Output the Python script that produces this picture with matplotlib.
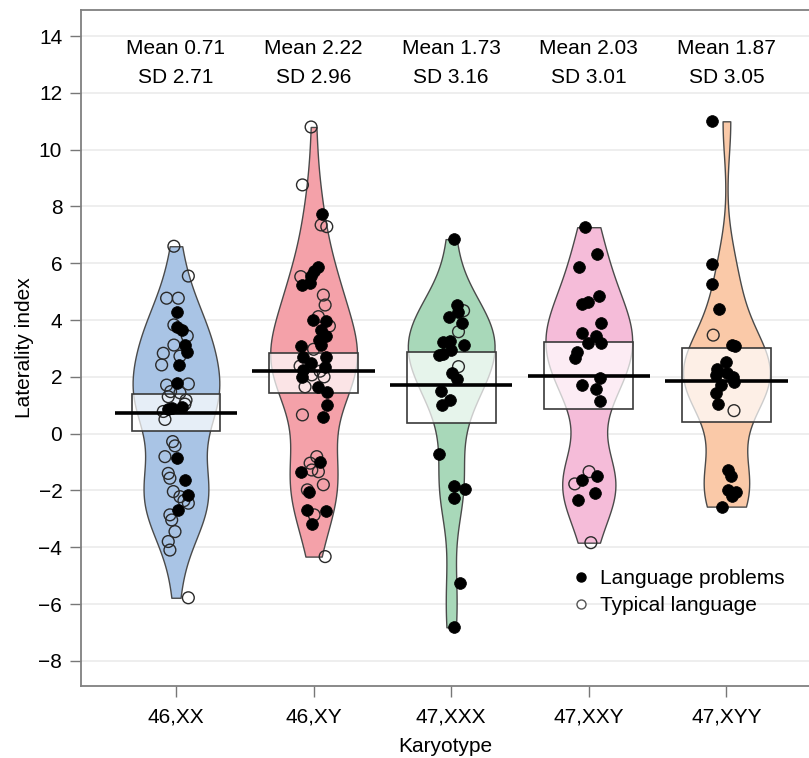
import numpy as np
import matplotlib
matplotlib.use("Agg")
from matplotlib import pyplot as plt
from matplotlib.lines import Line2D

plt.rcParams['font.family'] = ['Liberation Sans', 'DejaVu Sans']

karyotypes = ['46,XX', '46,XY', '47,XXX', '47,XXY', '47,XYY']
means = [0.71, 2.22, 1.73, 2.03, 1.87]
sds = [2.71, 2.96, 3.16, 3.01, 3.05]
box_low = [0.11, 1.42, 0.37, 0.86, 0.40]
box_high = [1.39, 2.85, 2.87, 3.22, 3.03]
colors = ['#a9c4e5', '#f4a1a9', '#a8d8b9', '#f5bcd9', '#fac9a8']

# laterality index per child, horizontal jitter, 1 = language problems
li_xx = [6.6, 5.55, 4.77, 4.77, 4.30, 3.83, 3.74, 3.65, 3.44, 3.12, 3.12, 2.86, 2.83, 2.73,
         2.42, 2.42, 1.77, 1.71, 1.75, 1.48, 1.44, 1.30, 1.18, 1.04, 0.92, 0.95, 0.78, 0.86,
         0.50, -0.28, -0.43, -0.81, -0.87, -1.40, -1.57, -1.63, -2.04, -2.16, -2.22, -2.45,
         -2.36, -2.69, -2.86, -3.04, -3.45, -3.80, -4.10, -5.78]
jit_xx = [-0.015, 0.09, -0.068, 0.017, 0.01, -0.015, 0.005, 0.041, 0.082, -0.015, 0.065, 0.082,
          -0.092, 0.029, -0.104, 0.024, 0.01, -0.068, 0.09, -0.039, 0.029, -0.056, 0.073, 0.065,
          -0.031, 0.041, -0.092, -0.056, -0.08, -0.024, -0.007, -0.08, 0.005, -0.056, -0.044,
          0.065, -0.019, 0.085, 0.029, 0.09, 0.058, 0.017, -0.044, -0.031, -0.007, -0.056,
          -0.044, 0.09]
lp_xx = [0, 0, 0, 0, 1, 0, 1, 1, 0, 0, 1, 1, 0, 0, 0, 1, 1, 0, 0, 0, 0, 0, 0, 0, 1, 1, 0, 1,
         0, 0, 0, 0, 1, 0, 0, 1, 0, 1, 0, 0, 0, 1, 0, 0, 0, 0, 0, 0]

li_xy = [10.8, 8.76, 7.73, 7.35, 7.29, 5.86, 5.74, 5.55, 5.53, 5.32, 5.23, 4.88, 4.53, 4.12,
         4.00, 3.98, 3.79, 3.65, 3.44, 3.30, 3.12, 3.09, 2.97, 2.71, 2.69, 2.48, 2.36, 2.38,
         2.24, 2.20, 2.07, 2.00, 2.00, 1.65, 1.65, 1.48, 1.01, 0.60, 0.66, -0.81, -0.99, -1.04,
         -1.34, -1.34, -1.28, -1.80, -1.98, -2.07, -2.69, -2.71, -2.86, -3.19, -4.33]
jit_xy = [-0.018, -0.081, 0.059, 0.055, 0.096, 0.035, 0.0, -0.018, -0.093, -0.025, -0.086,
          0.071, 0.084, 0.035, -0.006, 0.091, 0.115, 0.055, 0.091, 0.042, 0.052, -0.093, 0.0,
          -0.074, 0.091, -0.021, 0.084, -0.098, -0.074, 0.047, -0.013, -0.086, 0.076, -0.062,
          0.035, 0.096, 0.1, 0.067, -0.081, 0.023, 0.047, -0.025, -0.091, 0.035, -0.013, 0.071,
          -0.045, -0.033, -0.05, 0.091, 0.004, -0.013, 0.084]
lp_xy = [0, 0, 1, 0, 0, 1, 1, 1, 0, 1, 1, 0, 0, 0, 1, 1, 0, 1, 1, 1, 1, 1, 0, 1, 1, 1, 1, 0,
         1, 0, 0, 1, 0, 0, 1, 1, 1, 1, 0, 0, 1, 0, 1, 0, 0, 0, 0, 1, 1, 1, 0, 1, 0]

li_xxx = [6.85, 4.53, 4.33, 4.30, 4.10, 3.91, 3.59, 3.22, 3.27, 3.12, 2.95, 2.77, 2.79, 2.36,
          2.15, 1.91, 1.50, 1.18, 1.01, -0.73, -1.83, -1.95, -2.28, -5.27, -6.82]
jit_xxx = [0.024, 0.041, 0.09, 0.053, -0.019, 0.078, 0.053, -0.056, -0.012, 0.094, 0.0, -0.092,
           -0.056, 0.053, 0.005, 0.041, -0.073, -0.012, -0.068, -0.092, 0.024, 0.102, 0.022,
           0.061, 0.022]
lp_xxx = [1, 1, 0, 1, 1, 1, 0, 1, 1, 1, 1, 1, 1, 0, 1, 1, 1, 1, 1, 1, 1, 1, 1, 1, 1]

li_xxy = [7.27, 6.33, 5.88, 4.85, 4.57, 4.65, 3.88, 3.56, 3.44, 3.18, 3.18, 2.89, 2.65, 1.95,
          1.71, 1.56, 1.16, -1.34, -1.49, -1.63, -1.77, -2.34, -2.10, -3.84]
jit_xxy = [-0.029, 0.056, -0.073, 0.075, -0.053, -0.005, 0.087, -0.053, 0.051, -0.005, 0.092,
           -0.085, -0.097, 0.08, -0.046, 0.051, 0.08, 0.002, 0.056, -0.053, -0.102, -0.078,
           0.048, 0.015]
lp_xxy = [1, 1, 1, 1, 1, 1, 1, 1, 1, 1, 1, 1, 1, 1, 1, 1, 1, 0, 1, 1, 0, 1, 1, 0]

li_xyy = [11.0, 5.98, 5.27, 4.38, 3.47, 3.12, 3.10, 2.54, 2.28, 2.12, 2.05, 2.00, 1.83, 1.71,
          1.44, 1.05, 0.81, -1.28, -1.48, -1.98, -2.04, -2.19, -2.57]
jit_xyy = [-0.103, -0.103, -0.108, -0.052, -0.096, 0.038, 0.062, -0.004, -0.071, 0.001, -0.076,
           0.05, 0.055, -0.04, -0.076, -0.059, 0.055, 0.013, 0.03, 0.013, 0.069, 0.038, -0.035]
lp_xyy = [1, 1, 1, 1, 0, 1, 1, 1, 1, 1, 1, 1, 1, 1, 1, 1, 0, 1, 1, 1, 1, 1, 1]

values = [li_xx, li_xy, li_xxx, li_xxy, li_xyy]
jitter = [jit_xx, jit_xy, jit_xxx, jit_xxy, jit_xyy]
problems = [lp_xx, lp_xy, lp_xxx, lp_xxy, lp_xyy]

fig = plt.figure(figsize=(8.09, 7.58), dpi=100)
ax = fig.add_axes([81 / 809, 72.5 / 758, 1 - 81 / 809, 675.5 / 758])
pos = np.arange(len(karyotypes))

ax.set_axisbelow(True)
ax.yaxis.grid(True, color='#ebebeb', linewidth=1.2)

parts = ax.violinplot(values, positions=pos, widths=0.63, showextrema=False, bw_method=0.4)
for body, c in zip(parts['bodies'], colors):
    body.set_facecolor(c)
    body.set_edgecolor('#4a4a4a')
    body.set_linewidth(1.0)
    body.set_alpha(1)
    body.set_zorder(2)

ax.bar(pos, np.array(box_high) - np.array(box_low), bottom=box_low, width=0.645,
       facecolor=(1, 1, 1, 0.72), edgecolor='#3a3a3a', linewidth=1.2, zorder=3)

for i in range(len(karyotypes)):
    v = np.array(values[i])
    x = pos[i] + np.array(jitter[i])
    lp = np.array(problems[i]) == 1
    ax.scatter(x[~lp], v[~lp], s=72, facecolors='none', edgecolors='#2a2a2a', linewidths=1.0, zorder=4)
    ax.scatter(x[lp], v[lp], s=72, color='black', edgecolors='black', linewidths=0.5, zorder=5)
    ax.text(pos[i], 13.58, f'Mean {means[i]:.2f}', ha='center', va='center', fontsize=15)
    ax.text(pos[i], 12.56, f'SD {sds[i]:.2f}', ha='center', va='center', fontsize=15)

ax.hlines(means, pos - 0.445, pos + 0.445, color='black', linewidth=2.6, zorder=6)

ax.set_xlim(-0.69, 4.6)
ax.set_ylim(-8.87, 14.92)
ax.set_yticks(np.arange(-8, 15, 2))
ax.set_yticklabels([f'{t}'.replace('-', '\u2212') for t in range(-8, 15, 2)])
ax.set_xticks(pos)
ax.set_xticklabels(karyotypes)
ax.tick_params(labelsize=15, length=8, width=1, color='#777777', pad=5.5)
ax.tick_params(axis='x', pad=7.5)
for side in ['left', 'bottom', 'top']:
    ax.spines[side].set_color('#808080')
    ax.spines[side].set_linewidth(1.3)
ax.spines['right'].set_visible(False)
ax.set_xlabel('Karyotype', fontsize=15, labelpad=8)
ax.set_ylabel('Laterality index', fontsize=15, labelpad=3)

handles = [Line2D([], [], linestyle='none', marker='o', markersize=6.5, markerfacecolor='black',
                  markeredgecolor='black'),
           Line2D([], [], linestyle='none', marker='o', markersize=6.5, markerfacecolor='white',
                  markeredgecolor='#555555')]
ax.legend(handles, ['Language problems', 'Typical language'], loc='upper left',
          bbox_to_anchor=(571 / 809, 1 - 569 / 758), bbox_transform=fig.transFigure,
          frameon=False, fontsize=15, handletextpad=0.4, labelspacing=0.38,
          handlelength=1.0, borderpad=0, borderaxespad=0)

fig.savefig('out.png', dpi=100)
